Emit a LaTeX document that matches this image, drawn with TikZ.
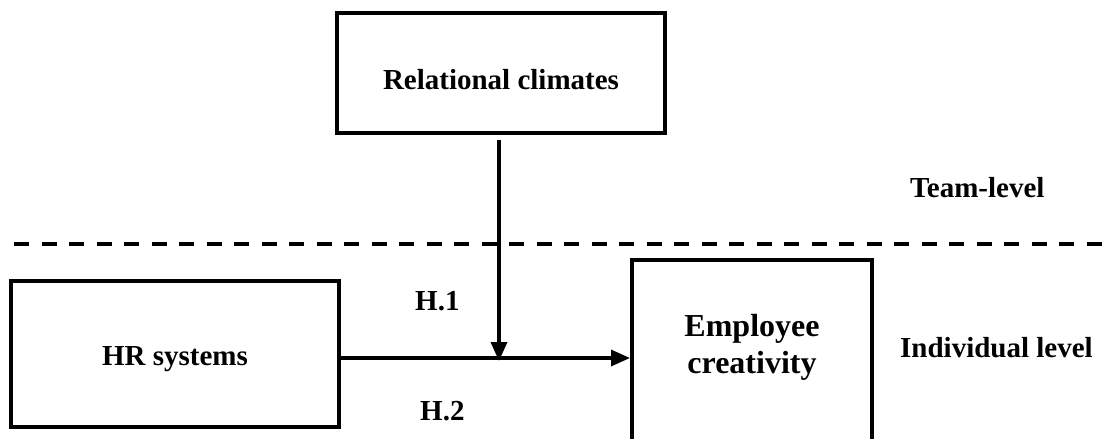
\documentclass[tikz,border=0pt]{standalone}
\usepackage{fontspec}
\setmainfont{Liberation Serif}
\usetikzlibrary{arrows.meta}
\begin{document}
\begin{tikzpicture}[x=1pt,y=-1pt,
  boxstyle/.style={draw=black,line width=4pt,inner sep=0pt,fill=none},
  lbl/.style={font=\fontsize{29}{33}\selectfont\bfseries,inner sep=0pt,anchor=base},
  arr/.style={line width=3.4pt,-{Triangle[length=19pt,width=16pt]}}]
\useasboundingbox (0,0) rectangle (1111,439);
\clip (0,0) rectangle (1111,439);
% boxes
\node[boxstyle,minimum width=328pt,minimum height=120pt] (rc) at (501,73) {};
\node[lbl] (rctext) at (501,89) {Relational climates};
\node[boxstyle,minimum width=328pt,minimum height=146pt] (hr) at (175,354) {};
\node[lbl] (hrtext) at (175,365) {HR systems};
\node[boxstyle,minimum width=240pt,minimum height=200pt] (emp) at (752,360) {};
\node[lbl,font=\fontsize{32}{37}\selectfont\bfseries] (emp1) at (752,336) {Employee};
\node[lbl,font=\fontsize{32}{37}\selectfont\bfseries] (emp2) at (752,373) {creativity};
% level labels
\node[lbl,anchor=base west] (team) at (910,197) {Team-level};
\node[lbl,anchor=base west] (indiv) at (900,357) {Individual level};
% hypothesis labels
\node[lbl,anchor=base west] (h1) at (415,310) {H.1};
\node[lbl,anchor=base west] (h2) at (420,420) {H.2};
% dashed divider
\coordinate (dl) at (14,244);
\coordinate (dr) at (1111,244);
\draw[line width=4pt,dash pattern=on 15pt off 12.5pt] (dl) -- (dr);
% arrows
\coordinate (j) at (499,358);
\draw[arr] (hr.east |- j) -- (j -| emp.west);
\draw[arr,shorten <=5pt] (rc.south -| j) -- ([yshift=-3pt]j);
\end{tikzpicture}
\end{document}
